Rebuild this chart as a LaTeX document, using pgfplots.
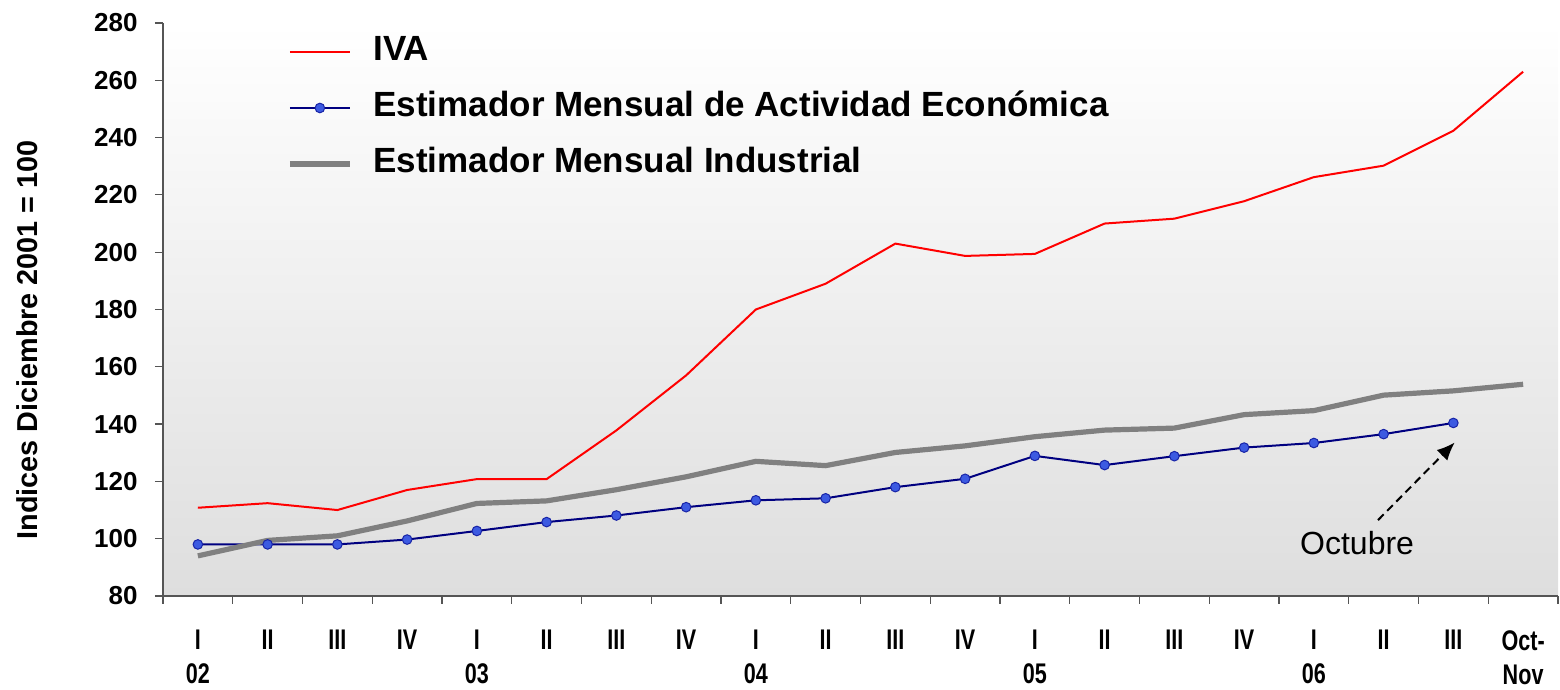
\documentclass[border=0pt]{standalone}
\usepackage{fontspec}
\setmainfont{Liberation Sans}
\newfontfamily\narrowfont[FakeStretch=0.76]{Liberation Sans}
\usepackage{pgfplots}
\pgfplotsset{compat=1.18}
\usetikzlibrary{arrows.meta}
\definecolor{emae}{RGB}{0,0,128}
\definecolor{emaemark}{RGB}{60,90,225}
\definecolor{emi}{RGB}{128,128,128}
\definecolor{axgray}{RGB}{85,85,85}
\definecolor{bgbot}{RGB}{222,222,222}
\begin{document}
\begin{tikzpicture}
\useasboundingbox (-81.5pt,-47pt) rectangle (698.5pt,298pt);
\begin{axis}[
  at={(0pt,0pt)}, anchor=south west,
  width=697.5pt, height=286.5pt, scale only axis,
  xmin=-0.5, xmax=19.5, ymin=80, ymax=280,
  axis x line*=bottom, axis y line*=left,
  axis line style={axgray, line width=0.8pt},
  axis background/.style={top color=white, bottom color=bgbot},
  ytick={80,100,...,280},
  xtick={0,...,19},
  xticklabels={{I\\02},II,III,IV,{I\\03},II,III,IV,{I\\04},II,III,IV,{I\\05},II,III,IV,{I\\06},II,III,{Oct-\\Nov}},
  minor xtick={-0.5,0.5,...,19.5},
  tick align=outside,
  major tick length=4pt, minor tick length=4pt,
  major x tick style={draw=none},
  tick style={axgray, line width=0.6pt},
  /pgf/number format/assume math mode=true,
  yticklabel style={font=\fontsize{13}{15}\selectfont\bfseries, inner sep=0pt, xshift=-8.5pt},
  xticklabel style={font=\narrowfont\fontsize{14.2}{17}\selectfont\bfseries, align=center, inner sep=0pt, yshift=-13pt},
  clip=false,
  legend style={at={(rel axis cs:0.0845,0.985)}, anchor=north west, draw=none, fill=none,
    font=\fontsize{17.5}{20}\selectfont\bfseries, row sep=12pt, column sep=10.5pt,
    nodes={inner sep=0pt, text height=12.5pt, text depth=3.5pt}},
  legend cell align=left,
  legend image code/.code={\draw[mark repeat=2,mark phase=2,#1] plot coordinates {(0pt,0pt) (15pt,0pt) (30pt,0pt)};},
]
\addplot[red, line width=1pt] coordinates {
(0,110.8) (1,112.4) (2,110) (3,117) (4,120.8) (5,120.8) (6,137.8) (7,157) (8,180) (9,189)
(10,203) (11,198.7) (12,199.4) (13,210) (14,211.7) (15,217.8) (16,226.2) (17,230.2) (18,242.4) (19,263)
};
\addlegendentry{IVA}
\addplot[emae, line width=1pt, mark=*, mark size=2.4pt, mark options={fill=emaemark, draw=emae!60!emaemark, line width=0.5pt}] coordinates {
(0,98) (1,98) (2,98) (3,99.7) (4,102.7) (5,105.8) (6,108.1) (7,111) (8,113.4) (9,114.1)
(10,118) (11,120.9) (12,128.9) (13,125.7) (14,128.8) (15,131.8) (16,133.4) (17,136.5) (18,140.4)
};
\addlegendentry{Estimador Mensual de Actividad Económica}
\addplot[emi, line width=2.6pt] coordinates {
(0,94) (1,99.4) (2,101) (3,106.2) (4,112.3) (5,113.2) (6,117.1) (7,121.6) (8,127) (9,125.5)
(10,130.1) (11,132.4) (12,135.6) (13,137.9) (14,138.6) (15,143.3) (16,144.7) (17,150.1) (18,151.6) (19,153.9)
};
\addlegendentry{Estimador Mensual Industrial}
\draw[black, line width=1pt, dash pattern=on 4pt off 2.5pt, -{Latex[length=9pt,width=7.5pt]}] (axis cs:16.92,106.5) -- (axis cs:18.02,133.6);
\node[font=\fontsize{16}{19}\selectfont] at (axis cs:16.62,98.5) {Octubre};
\node[rotate=90, font=\fontsize{14.4}{17}\selectfont\bfseries] at (rel axis cs:-0.0975,0.447) {Indices Diciembre 2001 = 100};
\end{axis}
\end{tikzpicture}
\end{document}
